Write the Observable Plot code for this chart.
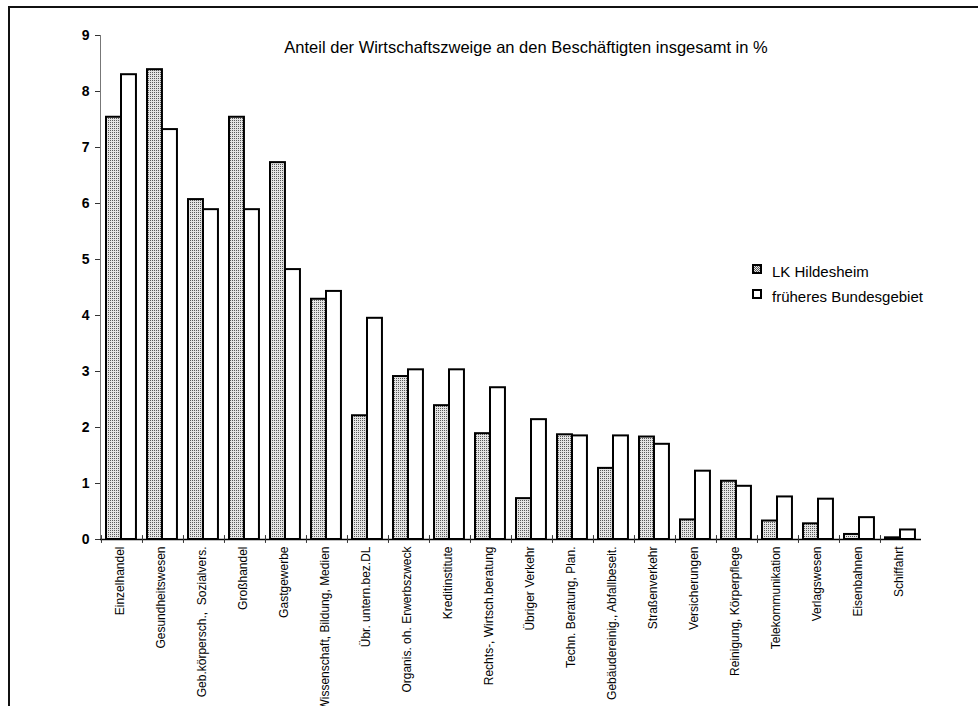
<!DOCTYPE html>
<html><head><meta charset="utf-8">
<script src="https://cdn.jsdelivr.net/npm/d3@7"></script>
<script src="https://cdn.jsdelivr.net/npm/@observablehq/plot@0.6"></script>
<style>
html,body{margin:0;padding:0;background:#fff;width:978px;height:706px;overflow:hidden;font-family:"Liberation Sans",Arial,sans-serif}
#wrap{position:relative;width:978px;height:706px;overflow:hidden}
#border{position:absolute;left:8px;top:6px;width:980px;height:720px;border-left:2px solid #111;border-top:2px solid #111;box-sizing:border-box}
#chart{position:absolute;left:0;top:0}
#legend{position:absolute;left:752px;top:262px;font-size:15px;color:#000;line-height:1}
.row{position:relative;height:25px}
.sw{position:absolute;left:0;top:2px;width:6px;height:6px;border:2px solid #000}
.lab{position:absolute;left:20px;top:2px;white-space:nowrap}
</style></head><body>
<div id="wrap"><div id="border"></div><div id="chart"></div><div id="legend"></div></div>
<script>
const title = "Anteil der Wirtschaftszweige an den Beschäftigten insgesamt in %";
const categories = [
  "Einzelhandel", "Gesundheitswesen", "Geb.körpersch.,  Sozialvers.", "Großhandel", "Gastgewerbe",
  "Wissenschaft, Bildung, Medien", "Übr. untern.bez.DL", "Organis. oh. Erwerbszweck", "Kreditinstitute",
  "Rechts-, Wirtsch.beratung", "Übriger Verkehr", "Techn. Beratung, Plan.", "Gebäudereinig., Abfallbeseit.",
  "Straßenverkehr", "Versicherungen", "Reinigung, Körperpflege", "Telekommunikation", "Verlagswesen",
  "Eisenbahnen", "Schiffahrt"
];
const seriesNames = ["LK Hildesheim", "früheres Bundesgebiet"];
const lkHildesheim = [7.54, 8.39, 6.07, 7.54, 6.73, 4.29, 2.21, 2.91, 2.39, 1.89, 0.73, 1.87, 1.27, 1.83, 0.35, 1.04, 0.33, 0.28, 0.09, 0.03];
const bundesgebiet = [8.30, 7.32, 5.89, 5.89, 4.82, 4.43, 3.95, 3.03, 3.03, 2.71, 2.14, 1.85, 1.85, 1.70, 1.22, 0.95, 0.76, 0.72, 0.39, 0.17];
const yTicks = [0, 1, 2, 3, 4, 5, 6, 7, 8, 9];

const W = 978, H = 706, mL = 100, mR = 57, mT = 35, mB = 167;
const step = (W - mL - mR) / categories.length;

const lkData = categories.map((c, i) => ({c, v: lkHildesheim[i]}));
const bdData = categories.map((c, i) => ({c, v: bundesgebiet[i]}));

const svg = Plot.plot({
  width: W, height: H,
  marginLeft: mL, marginRight: mR, marginTop: mT, marginBottom: mB,
  style: {fontFamily: "'Liberation Sans', Arial, sans-serif", color: "#000", background: "transparent"},
  x: {domain: categories, padding: 0, label: null},
  y: {domain: [0, 9], label: null},
  marks: [
    Plot.frame({anchor: "left", stroke: "#777", strokeWidth: 1}),
    Plot.barY(lkData, {x: "c", y: "v", fill: "url(#stipple)", stroke: "#000", strokeWidth: 2,
      insetLeft: 5, insetRight: step - 20}),
    Plot.barY(bdData, {x: "c", y: "v", fill: "#fff", stroke: "#000", strokeWidth: 2,
      insetLeft: 20, insetRight: step - 35}),
    Plot.ruleY([0], {stroke: "#000", strokeWidth: 1.5}),
    Plot.ruleX(categories, {x: d => d, dx: -step / 2, y1: -0.07, y2: 0.07, stroke: "#333", strokeWidth: 1}),
    Plot.axisY(yTicks, {tickSize: 5, tickPadding: 6, fontSize: 14, fontWeight: "bold", stroke: "#333", tickFormat: d3.format("d")}),
    Plot.axisX({tickRotate: -90, tickSize: 0, tickPadding: 7, fontSize: 12, dx: -2,
      fontFamily: "'Liberation Sans Narrow', 'Liberation Sans', Arial, sans-serif"}),
    Plot.text([title], {frameAnchor: "top", dx: 15, dy: 6, fontSize: 16.5})
  ]
});

const ns = "http://www.w3.org/2000/svg";
const defs = document.createElementNS(ns, "defs");
defs.innerHTML = '<pattern id="stipple" width="2" height="2" patternUnits="userSpaceOnUse">' +
  '<rect width="2" height="2" fill="#e4e4e4"/><rect width="1" height="1" fill="#5a5a5a"/></pattern>';
svg.prepend(defs);
document.getElementById("chart").appendChild(svg);

const legend = document.getElementById("legend");
seriesNames.forEach((name, i) => {
  const row = document.createElement("div");
  row.className = "row";
  const sw = document.createElement("div");
  sw.className = "sw";
  sw.style.background = i === 0
    ? "repeating-conic-gradient(#5a5a5a 0 25%, #e4e4e4 0 50%) 0 0/2px 2px"
    : "#fff";
  const lab = document.createElement("div");
  lab.className = "lab";
  lab.textContent = name;
  row.appendChild(sw); row.appendChild(lab);
  legend.appendChild(row);
});
</script>
</body></html>
